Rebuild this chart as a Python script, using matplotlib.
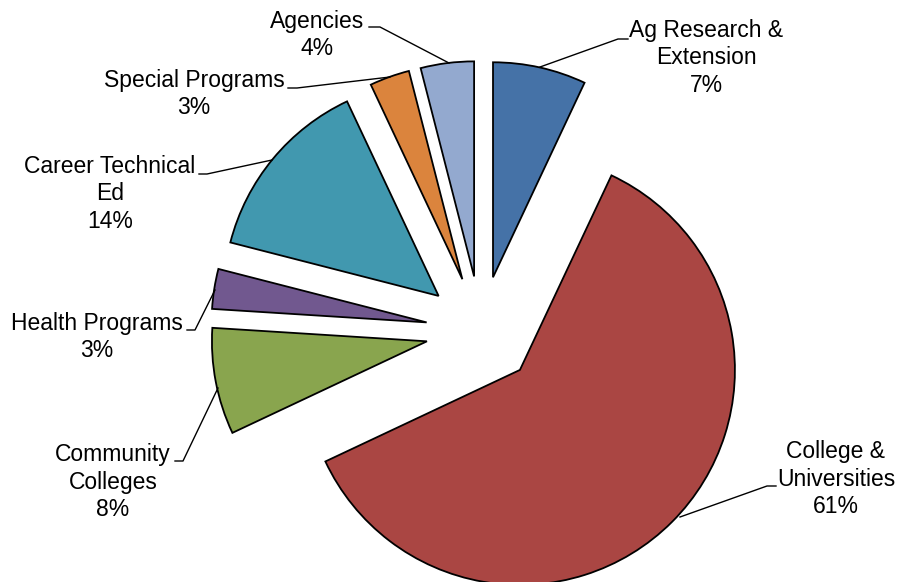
import numpy as np
import matplotlib.pyplot as plt

plt.rcParams['font.family'] = ['Liberation Sans', 'DejaVu Sans']

# budget shares (%), clockwise from 12 o'clock
labels = ['Ag Research &\nExtension', 'College &\nUniversities', 'Community\nColleges',
          'Health Programs', 'Career Technical\nEd', 'Special Programs', 'Agencies']
shares = [7, 61, 8, 3, 14, 3, 4]
colors = ['#4572A7', '#AA4643', '#89A54E', '#71588F', '#4198AF', '#DB843D', '#93A9CF']

# label centres and leader lines (pixel coords)
label_pos = [(706, 58), (836, 479), (113, 482), (97, 337), (110, 194), (194, 94), (317, 35)]
leaders = [
    [(540, 67), (618, 39), (628, 39)],
    [(680, 517), (767, 486), (776, 486)],
    [(218, 388), (183, 461), (175, 461)],
    [(215, 290), (195, 330), (187, 330)],
    [(272, 160), (207, 174), (199, 174)],
    [(390, 77), (297, 88), (288, 88)],
    [(449, 63), (380, 27), (369, 27)],
]

fig = plt.figure(figsize=(8.99, 5.82), dpi=100)
ax = fig.add_axes([0, 0, 1, 1])

R = 215
ax.pie(shares, colors=colors, startangle=-90, counterclock=True,
       center=(481, 331), radius=R, explode=[0.256 * R] * len(shares),
       wedgeprops=dict(edgecolor='black', linewidth=1.3))

for lab, s, (x, y) in zip(labels, shares, label_pos):
    ax.text(x, y, f'{lab}\n{s}%', ha='center', va='center', multialignment='center',
            fontsize=16.5, linespacing=1.25, color='black')

for pts in leaders:
    xs, ys = zip(*pts)
    ax.plot(xs, ys, color='black', linewidth=1.0)

ax.set_xlim(0, 899)
ax.set_ylim(582, 0)
ax.set_aspect('auto')
ax.axis('off')

plt.savefig('out.png', dpi=100)
